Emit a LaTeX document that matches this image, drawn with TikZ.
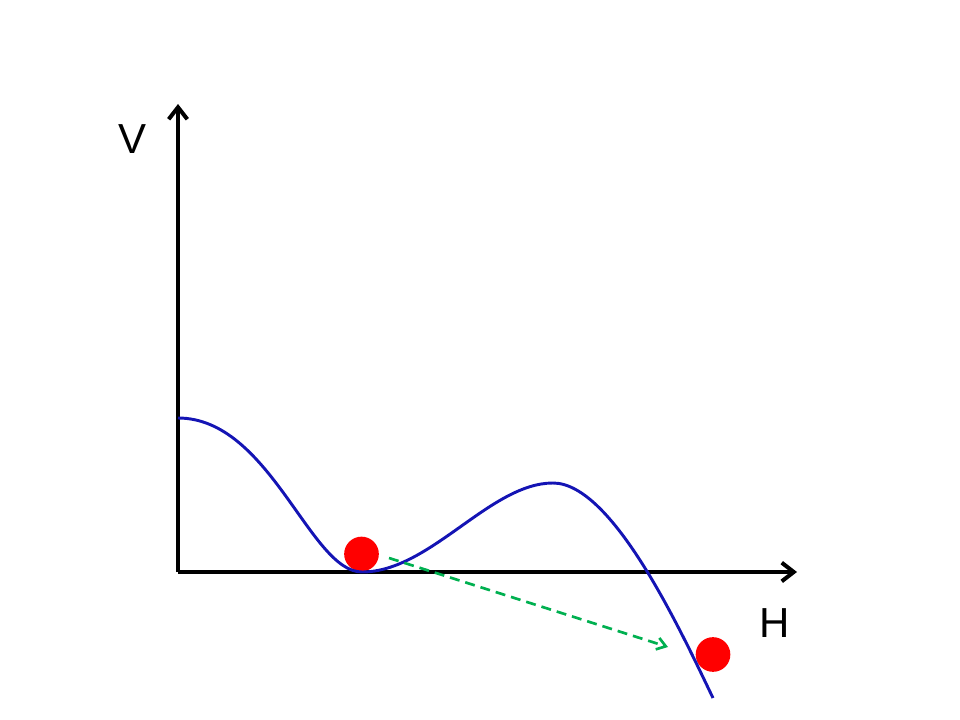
\documentclass[tikz,border=0pt]{standalone}
\usepackage{fontspec}
\setmainfont{Liberation Sans}
\usetikzlibrary{arrows.meta}
\definecolor{curveblue}{RGB}{20,20,180}
\definecolor{arrowgreen}{RGB}{0,176,80}
\begin{document}
\begin{tikzpicture}[x=0.75pt,y=-0.75pt,
  axis/.style={line width=3pt,-{Straight Barb[length=9pt,width=14pt,line width=3pt]}},
  potential/.style={line width=2.2pt,color=curveblue},
  ball/.style={circle,fill=red,inner sep=0pt,minimum size=26pt},
  jump/.style={line width=2pt,color=arrowgreen,dash pattern=on 7.5pt off 4.5pt,-{Straight Barb[length=6.5pt,width=9pt,line width=2pt]}},
  lbl/.style={font=\fontsize{31.5}{36}\selectfont,inner sep=0pt}]
\useasboundingbox (0,0) rectangle (960,720);
\coordinate (O) at (178,572);
\coordinate (Vtop) at (178,104);
\coordinate (Hend) at (797,572);
\draw[axis] (O) -- (Vtop);
\draw[axis] (O) -- (Hend);
\node[lbl] (V) at (133,139) {V};
\node[lbl] (H) at (775,623) {H};
\node[ball] (b1) at (361.5,554) {};
\node[ball] (b2) at (713,654.5) {};
\coordinate (p0) at (178,418);
\coordinate (pmin) at (362,572);
\coordinate (pmax) at (553,483);
\coordinate (pend) at (713,698);
\draw[potential] (p0) .. controls (270,418) and (310,572) .. (pmin)
  .. controls (430,572) and (490,483) .. (pmax)
  .. controls (613,483) and (681.8,633.2) .. (pend);
\coordinate (g1) at (389,558);
\coordinate (g2) at (668,647);
\draw[jump] (g1) -- (g2);
\end{tikzpicture}
\end{document}
